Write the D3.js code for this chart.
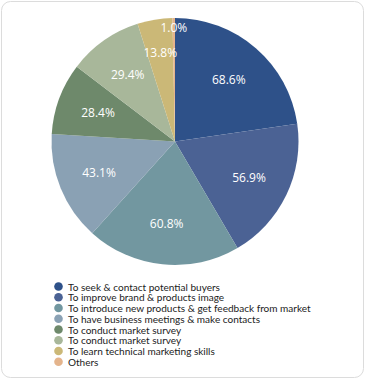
<!DOCTYPE html>
<html><head><meta charset="utf-8">
<script src="https://cdn.jsdelivr.net/npm/d3@7"></script>
<style>
html,body{margin:0;padding:0;background:#fff;}
svg{display:block;}
</style></head>
<body>
<svg id="c" width="365" height="380"></svg>
<script>
const categories = [
  "To seek & contact potential buyers",
  "To improve brand & products image",
  "To introduce new products & get feedback from market",
  "To have business meetings & make contacts",
  "To conduct market survey",
  "To conduct market survey",
  "To learn technical marketing skills",
  "Others"
];
const values = [68.6, 56.9, 60.8, 43.1, 28.4, 29.4, 13.8, 1.0];
const colors = ["#2e5189", "#4b6294", "#7297a0", "#8aa1b4", "#6e896b", "#a8b79a", "#cbb877", "#e4b48c"];

const svg = d3.select("#c");
const font = "'Open Sans', 'Noto Sans', sans-serif";
const legendFont = "Lato, 'Open Sans', sans-serif";

svg.append("rect").attr("x", 1.5).attr("y", 1.5).attr("width", 362).attr("height", 376)
  .attr("rx", 9).attr("fill", "#fff").attr("stroke", "#dcdcdc").attr("stroke-width", 1);

const cx = 175, cy = 141.5, R = 123.5;
const pie = d3.pie().sort(null).value(d => d)(values);
const arc = d3.arc().innerRadius(0).outerRadius(R);
const g = svg.append("g").attr("transform", `translate(${cx},${cy})`);
g.selectAll("path").data(pie).join("path")
  .attr("d", arc).attr("fill", (d, i) => colors[i]);

// labels with simple collision push-out
const placed = [];
const pad = 6, step = 8;
pie.forEach((d, i) => {
  const a = (d.startAngle + d.endAngle) / 2;
  const t = g.append("text").text(values[i].toFixed(1) + "%")
    .attr("fill", "#fff").attr("font-family", font).attr("font-size", 12)
    .attr("text-anchor", "middle").attr("dominant-baseline", "central");
  const w = t.node().getComputedTextLength(), h = 12;
  let r = R * 0.665;
  const boxAt = rr => {
    const x = Math.sin(a) * rr, y = -Math.cos(a) * rr;
    return {x, y, x0: x - w / 2, x1: x + w / 2, y0: y - h / 2, y1: y + h / 2};
  };
  let b = boxAt(r);
  const hit = bb => placed.some(p => bb.x0 < p.x1 + pad && bb.x1 > p.x0 - pad && bb.y0 < p.y1 + pad && bb.y1 > p.y0 - pad);
  while (hit(b) && r < R) { r += step; b = boxAt(r); }
  placed.push(b);
  t.attr("x", b.x).attr("y", b.y);
});

// legend
const lg = svg.append("g");
const rowH = 10.75, ly0 = 286.5;
const texts = categories.map((c, i) => {
  lg.append("circle").attr("cx", 58.5).attr("cy", ly0 + i * rowH).attr("r", 4.3).attr("fill", colors[i]);
  return lg.append("text").attr("x", 68).attr("y", ly0 + i * rowH)
    .attr("dominant-baseline", "central")
    .attr("font-family", legendFont).attr("font-size", 11).attr("fill", "#222").text(c);
});
const maxW = d3.max(texts, t => t.node().getComputedTextLength());
const fs = Math.min(11, 11 * 243 / maxW);
texts.forEach(t => t.attr("font-size", fs));
</script>
</body></html>
